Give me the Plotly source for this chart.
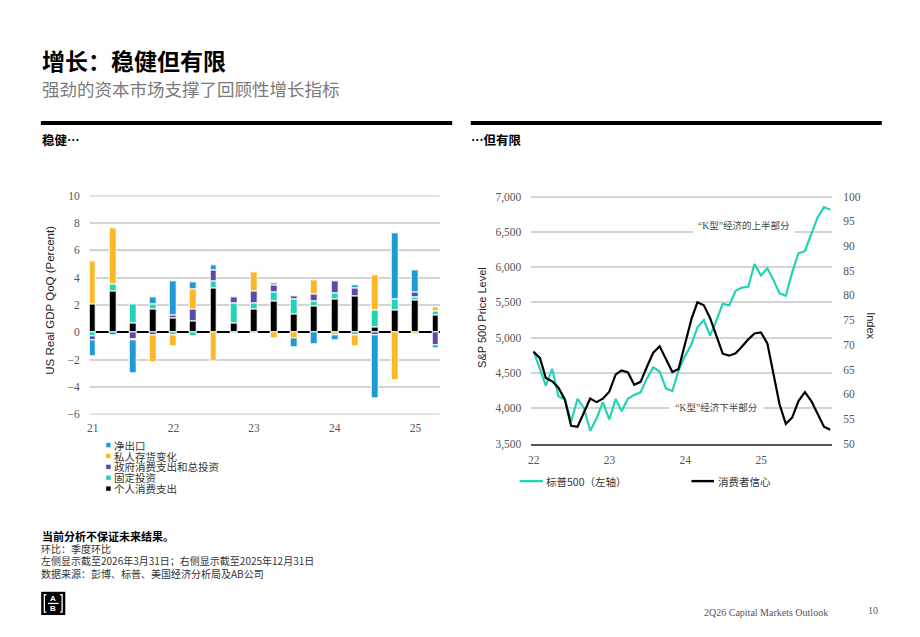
import plotly.graph_objects as go
import pandas as pd

W, H = 920, 637

# ---------------- Left chart data (contributions to real GDP QoQ, %) ----------------
quarters = ["2021Q1", "2021Q2", "2021Q3", "2021Q4",
            "2022Q1", "2022Q2", "2022Q3", "2022Q4",
            "2023Q1", "2023Q2", "2023Q3", "2023Q4",
            "2024Q1", "2024Q2", "2024Q3", "2024Q4",
            "2025Q1", "2025Q2"]
pce = [2.05, 3.0, 0.65, 1.7, 1.0, 0.8, 3.25, 0.65, 1.7, 2.28, 1.3, 1.87,
       2.45, 2.65, 0.4, 1.65, 2.35, 1.28]
fixed_inv = [-0.3, 0.55, 1.4, 0.38, -0.25, -0.3, 0.5, 1.45, 0.42, 0.62, 1.12, 0.42,
             0.4, -0.2, 1.2, 0.78, 0.22, 0.27]
gov = [-0.3, None, -0.5, -0.25, 0.27, 0.9, 0.82, 0.47, 0.92, 0.57, 0.25, 0.5,
       0.87, 0.55, -0.2, None, 0.36, -0.98]
inventories = [3.15, 4.1, -0.1, -1.97, -0.75, 1.42, -2.1, None, 1.38, -0.43, -0.45, 1.05,
               -0.2, -0.8, 2.55, -3.5, -0.15, 0.28]
net_exports = [-1.12, -0.2, -2.4, 0.47, 2.5, 0.52, 0.36, -0.1, -0.05, 0.1, -0.62, -0.88,
               -0.4, 0.22, -4.65, 4.8, 1.58, -0.22]

bar_series = [pce, fixed_inv, gov, inventories, net_exports]
bar_names = ["个人消费支出", "固定投资", "政府消费支出和总投资", "私人存货变化", "净出口"]
bar_colors = ["#000000", "#22d3b5", "#5a4ba6", "#fbb829", "#1f9ad6"]
left_x_ticks = [21, 22, 23, 24, 25]
left_x_labels = ["21", "22", "23", "24", "25"]
left_y_ticks = [-6, -4, -2, 0, 2, 4, 6, 8, 10]

# ---------------- Right chart data (monthly) ----------------
months = pd.date_range("2021-12-31", periods=48, freq="ME")
sp500 = [4812, 4560, 4320, 4559, 4167, 4130, 3810, 4134, 4006, 3683, 3858, 4089,
         3844, 4134, 3960, 4134, 4190, 4227, 4420, 4582, 4522, 4282, 4245, 4536,
         4743, 4905, 5149, 5250, 5029, 5250, 5481, 5458, 5665, 5710, 5721, 6044,
         5883, 5984, 5827, 5629, 5596, 5929, 6197, 6229, 6460, 6705, 6852, 6815]
confidence = [68.6, 67.3, 63.3, 62.6, 61.3, 58.9, 53.6, 53.4, 56.3, 59.1, 58.4, 59.1,
              60.5, 64.0, 64.8, 64.4, 61.9, 62.5, 65.5, 68.4, 69.7, 67.3, 64.5, 65.1,
              70.4, 75.2, 78.6, 78.0, 75.4, 71.7, 68.2, 67.8, 68.3, 69.6, 71.1, 72.3,
              72.5, 70.3, 64.5, 57.9, 54.0, 55.3, 58.6, 60.4, 58.6, 55.9, 53.4, 52.8]
line_names = ["标普500（左轴）", "消费者信心"]
line_colors = ["#22d3b5", "#000000"]
right_x_ticks = ["2022-01-01", "2023-01-01", "2024-01-01", "2025-01-01"]
right_x_labels = ["22", "23", "24", "25"]

# ---------------- helpers ----------------
CJK = "Noto Sans CJK SC"
SERIF = "Liberation Serif"
SANS = "Liberation Sans"
GRID = "#d3d3d3"
TICKFONT = dict(family=SERIF, size=11.5, color="#555555")


def fx(px):
    return px / W


def fy(py):
    return 1 - py / H


qx = [int(q[:4]) - 2000 + (int(q[-1]) - 1) / 4 for q in quarters]

fig = go.Figure()

for vals, name, col in zip(bar_series, bar_names, bar_colors):
    fig.add_trace(go.Bar(
        x=qx, y=vals, name=name, width=0.085,
        marker=dict(color=col, line=dict(color="white", width=1)),
        xaxis="x", yaxis="y", showlegend=False,
    ))

fig.add_trace(go.Scatter(
    x=months, y=sp500, name=line_names[0], mode="lines",
    line=dict(color=line_colors[0], width=2.2),
    xaxis="x2", yaxis="y2", showlegend=False,
))
fig.add_trace(go.Scatter(
    x=months, y=confidence, name=line_names[1], mode="lines",
    line=dict(color=line_colors[1], width=2.2),
    xaxis="x2", yaxis="y3", showlegend=False,
))

annotations = []
shapes = []

# Left-chart horizontal grid lines (styling, at the axis tick values)
for tv in left_y_ticks:
    if tv == 0:
        continue
    shapes.append(dict(type="line", xref="x domain", yref="y", x0=0, x1=1, y0=tv, y1=tv,
                       layer="below", line=dict(color=GRID, width=1.6)))

# Titles
annotations.append(dict(text="<b>增长：稳健但有限</b>", x=fx(37), y=fy(55),
                        xref="paper", yref="paper", xanchor="left", yanchor="middle",
                        showarrow=False, font=dict(family=CJK, size=23, color="#000")))
annotations.append(dict(text="强劲的资本市场支撑了回顾性增长指标", x=fx(37), y=fy(84),
                        xref="paper", yref="paper", xanchor="left", yanchor="middle",
                        showarrow=False, font=dict(family=CJK, size=17.5, color="#7a7a7a")))
# section rules
shapes.append(dict(type="line", xref="paper", yref="paper", x0=fx(38), x1=fx(450.7),
                   y0=fy(119.5), y1=fy(119.5), line=dict(color="black", width=4)))
shapes.append(dict(type="line", xref="paper", yref="paper", x0=fx(469.3), x1=fx(881.7),
                   y0=fy(119.5), y1=fy(119.5), line=dict(color="black", width=4)))
annotations.append(dict(text="<b>稳健…</b>", x=fx(37), y=fy(136),
                        xref="paper", yref="paper", xanchor="left", yanchor="middle",
                        showarrow=False, font=dict(family=CJK, size=12.5, color="#000")))
annotations.append(dict(text="<b>…但有限</b>", x=fx(468), y=fy(136),
                        xref="paper", yref="paper", xanchor="left", yanchor="middle",
                        showarrow=False, font=dict(family=CJK, size=12.5, color="#000")))

# Axis titles
annotations.append(dict(text="US Real GDP QoQ (Percent)", x=fx(47), y=fy(300),
                        xref="paper", yref="paper", xanchor="center", yanchor="middle",
                        textangle=-90, showarrow=False,
                        font=dict(family=SANS, size=11.5, color="#222")))
annotations.append(dict(text="S&P 500 Price Level", x=fx(480), y=fy(318),
                        xref="paper", yref="paper", xanchor="center", yanchor="middle",
                        textangle=-90, showarrow=False,
                        font=dict(family=SANS, size=11, color="#222")))
annotations.append(dict(text="Index", x=fx(871.5), y=fy(326.5),
                        xref="paper", yref="paper", xanchor="center", yanchor="middle",
                        textangle=90, showarrow=False,
                        font=dict(family=SANS, size=11, color="#222")))

# Left custom legend (reverse of stacking order)
leg_rows = [448.3, 459.4, 470.5, 481.6, 492.7]
for row_y, name, col in zip(leg_rows, bar_names[::-1], bar_colors[::-1]):
    shapes.append(dict(type="rect", xref="paper", yref="paper",
                       x0=fx(103.5), x1=fx(108), y0=fy(row_y + 2.2), y1=fy(row_y - 2.3),
                       fillcolor=col, line=dict(width=0)))
    annotations.append(dict(text=name, x=fx(110.5), y=fy(row_y), xref="paper", yref="paper",
                            xanchor="left", yanchor="middle", showarrow=False,
                            height=11, borderpad=0,
                            font=dict(family=CJK, size=10.5, color="#333")))

# Right custom legend
leg2 = [(518.3, 541.7, 542.7), (690.7, 713.3, 715.5)]
for (x0, x1, tx), name, col in zip(leg2, line_names, line_colors):
    shapes.append(dict(type="line", xref="paper", yref="paper", x0=fx(x0), x1=fx(x1),
                       y0=fy(485), y1=fy(485), line=dict(color=col, width=2.4)))
    annotations.append(dict(text=name, x=fx(tx), y=fy(485), xref="paper", yref="paper",
                            xanchor="left", yanchor="middle", showarrow=False,
                            font=dict(family=CJK, size=10.5, color="#333")))

# K-shape annotations
annotations.append(dict(text="“K型”经济的上半部分", x="2024-10-08", y=6595,
                        xref="x2", yref="y2", xanchor="center", yanchor="middle",
                        showarrow=False, bgcolor="white", width=100, height=17, borderpad=0,
                        font=dict(family=SERIF + ", " + CJK, size=9.5, color="#444")))
annotations.append(dict(text="“K型”经济下半部分", x="2024-05-31", y=4020,
                        xref="x2", yref="y2", xanchor="center", yanchor="middle",
                        showarrow=False, bgcolor="white", width=93, height=14, borderpad=0,
                        font=dict(family=SERIF + ", " + CJK, size=9.5, color="#444")))

# Footer
annotations.append(dict(text="<b>当前分析不保证未来结果。</b>", x=fx(37.5), y=fy(541.5),
                        xref="paper", yref="paper", xanchor="left", yanchor="middle",
                        showarrow=False, font=dict(family=CJK, size=11, color="#000")))
foot_lines = ["环比：季度环比",
              "左侧显示截至2026年3月31日；右侧显示截至2025年12月31日",
              "数据来源：彭博、标普、美国经济分析局及AB公司"]
for fy_px, t in zip([553.5, 566, 579], foot_lines):
    annotations.append(dict(text=t, x=fx(37.5), y=fy(fy_px), xref="paper", yref="paper",
                            xanchor="left", yanchor="middle", showarrow=False,
                            height=12, borderpad=0,
                            font=dict(family=CJK, size=10, color="#333")))
annotations.append(dict(text="2Q26 Capital Markets Outlook", x=fx(830), y=fy(619),
                        xref="paper", yref="paper", xanchor="right", yanchor="middle",
                        showarrow=False, font=dict(family=SERIF, size=10, color="#555")))
annotations.append(dict(text="10", x=fx(880), y=fy(617.5),
                        xref="paper", yref="paper", xanchor="right", yanchor="middle",
                        showarrow=False, font=dict(family=SERIF, size=10, color="#555")))

# AB logo
shapes.append(dict(type="rect", xref="paper", yref="paper", x0=fx(38.3), x1=fx(62.5),
                   y0=fy(621.7), y1=fy(598), fillcolor="black", line=dict(width=0)))
for pts in [[(43.5, 601), (41.5, 601), (41.5, 618.7), (43.5, 618.7)],
            [(57.3, 601), (59.3, 601), (59.3, 618.7), (57.3, 618.7)],
            [(45, 609.9), (55.8, 609.9)]]:
    path = "M " + " L ".join(f"{fx(a)},{fy(b)}" for a, b in pts)
    shapes.append(dict(type="path", xref="paper", yref="paper", path=path,
                       line=dict(color="white", width=1.3)))
annotations.append(dict(text="<b>A</b>", x=fx(50.4), y=fy(605), xref="paper", yref="paper",
                        xanchor="center", yanchor="middle", showarrow=False,
                        font=dict(family=SANS, size=8, color="white")))
annotations.append(dict(text="<b>B</b>", x=fx(50.4), y=fy(615), xref="paper", yref="paper",
                        xanchor="center", yanchor="middle", showarrow=False,
                        font=dict(family=SANS, size=8, color="white")))

fig.update_layout(
    width=W, height=H, autosize=False,
    margin=dict(l=0, r=0, t=0, b=0, pad=0),
    paper_bgcolor="white", plot_bgcolor="white",
    barmode="relative", bargap=0,
    showlegend=False,
    font=dict(family=CJK),
    xaxis=dict(domain=[fx(87), fx(438)], range=[20.963, 25.298],
               tickvals=left_x_ticks, ticktext=left_x_labels,
               showgrid=False, zeroline=False, showline=False, ticks="",
               tickfont=TICKFONT, ticklabelstandoff=5, anchor="y"),
    yaxis=dict(domain=[fy(417.3), fy(193.3)], range=[-6.03, 10.03],
               tickvals=left_y_ticks,
               showgrid=True, gridcolor=GRID, gridwidth=2, zeroline=True,
               zerolinecolor="black", zerolinewidth=1.5, showline=False, ticks="",
               tickfont=TICKFONT, ticklabelstandoff=9, anchor="x"),
    xaxis2=dict(type="date", domain=[fx(530), fx(832)],
                range=["2021-12-20", "2025-12-10"],
                tickvals=right_x_ticks, ticktext=right_x_labels,
                showgrid=False, zeroline=False, showline=True, linecolor="#555",
                linewidth=1.6, ticks="", tickfont=TICKFONT, ticklabelstandoff=5,
                anchor="y2"),
    yaxis2=dict(domain=[fy(446.7), fy(193.5)], range=[3500, 7015], dtick=500, tick0=3500,
                tickformat=",", showgrid=True, gridcolor=GRID, gridwidth=2, zeroline=False,
                showline=False, ticks="", tickfont=TICKFONT, ticklabelstandoff=9,
                anchor="x2"),
    yaxis3=dict(overlaying="y2", side="right", anchor="x2", range=[50, 100.22], dtick=5,
                tick0=50, showgrid=False, zeroline=False, showline=False, ticks="",
                tickfont=TICKFONT, ticklabelstandoff=10),
    annotations=annotations,
    shapes=shapes,
)

fig.write_html("out.html")
